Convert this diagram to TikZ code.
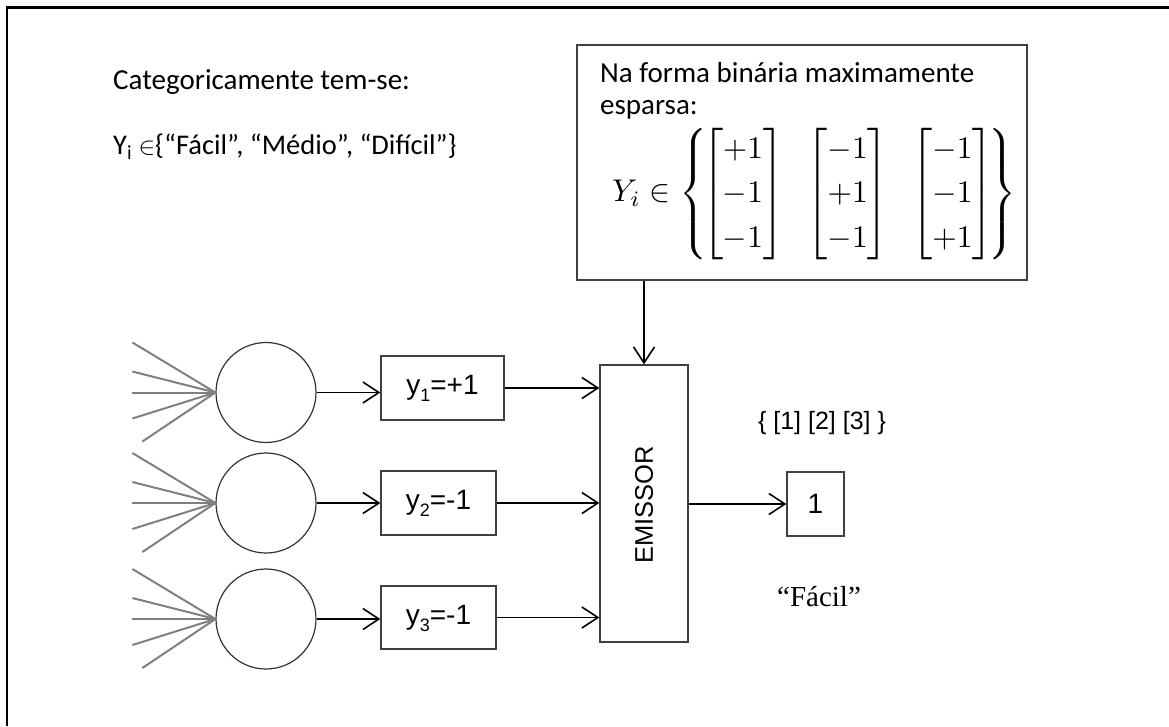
\documentclass[tikz,border=0pt]{standalone}
\usepackage{amsmath}
\usepackage{fontspec}
\setmainfont{Carlito}
\newfontfamily\arialf{Liberation Sans}
\newfontfamily\timesf{Liberation Serif}
\usetikzlibrary{arrows.meta}
\newcommand{\lowsub}[1]{\raisebox{-7pt}[0pt][0pt]{\fontsize{18}{20}\selectfont #1}}
\begin{document}
\begin{tikzpicture}[x=1pt,y=-1pt,
  arr/.style={line width=1.6pt,-{Straight Barb[length=16pt,width=21pt,line width=1.6pt]}},
  boxst/.style={draw=black!75,line width=1.3pt,inner sep=0pt,minimum width=#1},
  circst/.style={circle,draw=black!80,line width=1.2pt,minimum size=100pt,inner sep=0pt},
  fan/.style={draw=black!50,line width=2pt},
  cal/.style={font=\fontsize{29}{34}\selectfont,inner sep=0pt},
  ari/.style={font=\arialf\fontsize{28}{34}\selectfont,inner sep=0pt}]
\useasboundingbox (0,0) rectangle (1169,726);
\draw[line width=2.2pt] (7,726) -- (7,7.5) -- (1169,7.5);

% top-left texts
\node[cal,anchor=west] (t1) at (113,82) {Categoricamente tem-se:};
\node[cal,anchor=west,font=\fontsize{28.5}{34}\selectfont] (t2) at (113,147) {Y\textsubscript{i} $\in$\{“Fácil”, “Médio”, “Difícil”\}};

% matrix box
\node[boxst=450pt,minimum height=235pt] (mb) at (802,162.5) {};
\node[cal,anchor=west] (m1) at (600,73) {Na forma binária maximamente};
\node[cal,anchor=west] (m2) at (600,110) {esparsa:};
\node[inner sep=0pt,anchor=west] (eq) at (612,194)
 {\setlength{\arraycolsep}{1pt}\renewcommand{\arraystretch}{1.18}\resizebox{404pt}{!}{$Y_i \in \left\{\!\begin{bmatrix}+1\\-1\\-1\end{bmatrix}\;\; \begin{bmatrix}-1\\+1\\-1\end{bmatrix}\;\; \begin{bmatrix}-1\\-1\\+1\end{bmatrix}\!\right\}$}};

% emissor
\node[boxst=88pt,minimum height=277pt] (em) at (644,503.5) {};
\node[ari,rotate=90,font=\arialf\fontsize{25.5}{32}\selectfont] (emt) at (644,505) {EMISSOR};
\draw[arr] (em.north |- mb.south) -- (em.north);

% circles
\node[circst] (c1) at (266,392.5) {};
\node[circst] (c2) at (266,503) {};
\node[circst] (c3) at (266,619) {};
\foreach \i in {1,2,3}{
  \draw[fan] (c\i.west) -- ++(-83,-50);
  \draw[fan] (c\i.west) -- ++(-83,-21);
  \draw[fan] (c\i.west) -- ++(-83,0);
  \draw[fan] (c\i.west) -- ++(-83,26);
  \draw[fan] (c\i.west) -- ++(-73,49);
}

% y boxes
\node[boxst=123pt,minimum height=64pt,ari] (b1) at (442.5,388) {y\lowsub{1}=+1};
\node[boxst=115pt,minimum height=64pt,ari] (b2) at (438.5,503) {y\lowsub{2}=-1};
\node[boxst=115pt,minimum height=63pt,ari] (b3) at (438.5,617.5) {y\lowsub{3}=-1};

\draw[arr] (c1.east) -- (c1.east -| b1.west);
\draw[arr] (c2.east) -- (c2.east -| b2.west);
\draw[arr] (c3.east) -- (c3.east -| b3.west);
\draw[arr] (b1.east) -- (b1.east -| em.west);
\draw[arr] (b2.east) -- (b2.east -| em.west);
\draw[arr] (b3.east) -- (b3.east -| em.west);

% output
\node[boxst=57pt,minimum height=64pt,ari] (out) at (815.5,504) {1};
\draw[arr] (em.east |- out.west) -- (out.west);
\node[ari,font=\arialf\fontsize{25}{32}\selectfont] (set) at (822,423) {\{ [1] [2] [3] \}};
\node[inner sep=0pt,font=\timesf\fontsize{29}{36}\selectfont] (fac) at (819,597) {“Fácil”};
\end{tikzpicture}
\end{document}
